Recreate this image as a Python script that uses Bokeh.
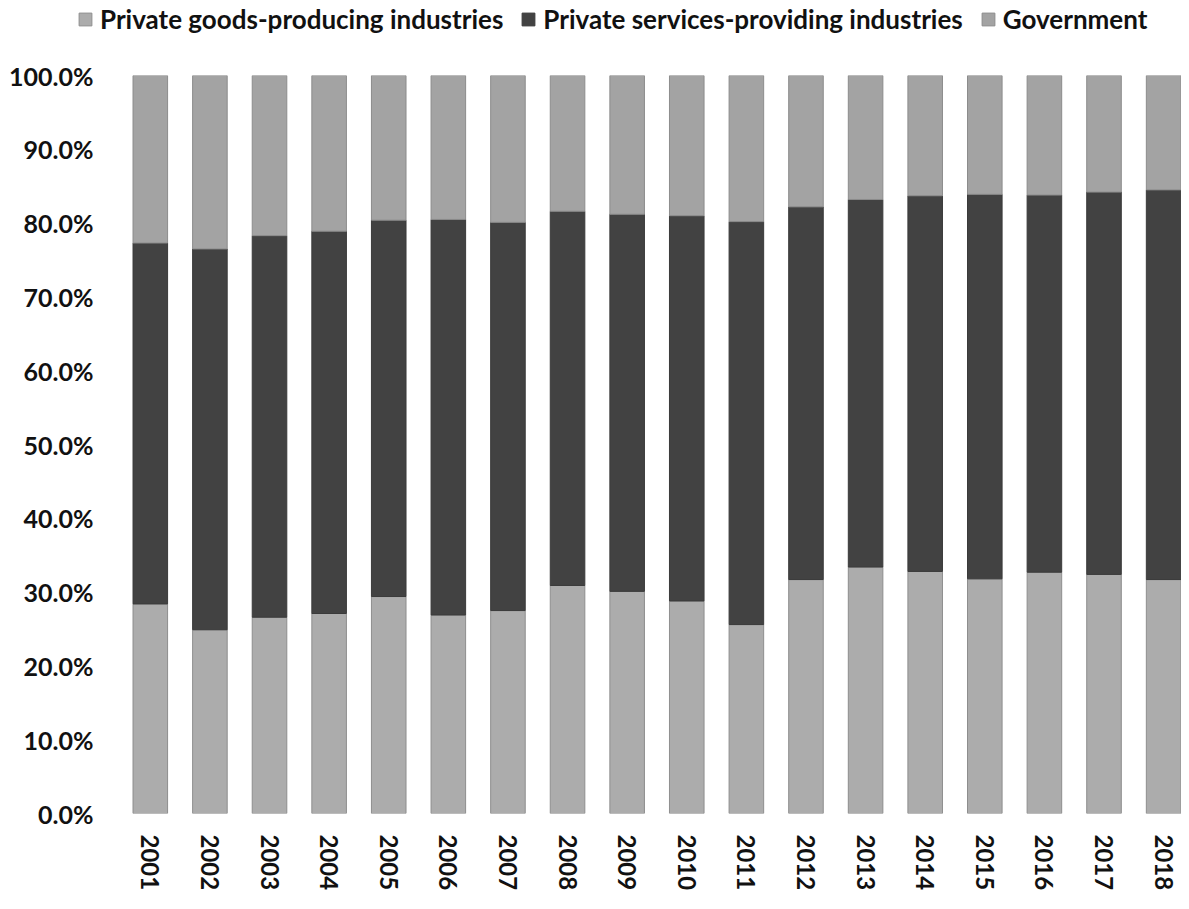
from bokeh.plotting import figure
from bokeh.layouts import column
from bokeh.models import ColumnDataSource, Range1d, FixedTicker, Legend, LegendItem, PrintfTickFormatter
from bokeh.embed import file_html
from bokeh.resources import INLINE

years = [2001, 2002, 2003, 2004, 2005, 2006, 2007, 2008, 2009,
         2010, 2011, 2012, 2013, 2014, 2015, 2016, 2017, 2018]
goods = [28.4, 24.9, 26.6, 27.1, 29.4, 26.9, 27.5, 30.9, 30.1,
         28.8, 25.6, 31.7, 33.4, 32.8, 31.8, 32.7, 32.4, 31.7]
services = [48.9, 51.6, 51.7, 51.8, 51.0, 53.6, 52.6, 50.7, 51.1,
            52.2, 54.6, 50.5, 49.8, 50.9, 52.1, 51.1, 51.8, 52.8]
government = [22.7, 23.5, 21.7, 21.1, 19.6, 19.5, 19.9, 18.4, 18.8,
              19.0, 19.8, 17.8, 16.8, 16.3, 16.1, 16.2, 15.8, 15.5]
series_names = ["Private goods-producing industries",
                "Private services-providing industries",
                "Government"]
y_ticks = [0, 10, 20, 30, 40, 50, 60, 70, 80, 90, 100]

FONT = "Lato"
colors = ["#acacac", "#424242", "#a3a3a3"]
lines = ["#8e8e8e", "#3a3a3a", "#8c8c8c"]
cols = ["goods", "services", "government"]

src = ColumnDataSource(dict(year=years, goods=goods, services=services, government=government))

p = figure(width=1181, height=853, output_backend="svg", toolbar_location=None,
           x_range=Range1d(2000.5, 2018.3), y_range=Range1d(0, 100),
           min_border_left=120, min_border_right=0, min_border_top=35, min_border_bottom=76)
p.outline_line_color = None
p.background_fill_color = "white"
p.border_fill_color = "white"

rs = p.vbar_stack(cols, x="year", width=0.58, source=src,
                  fill_color=colors, line_color=lines, line_width=1)

p.xgrid.grid_line_color = None
p.ygrid.grid_line_color = None

p.yaxis.ticker = FixedTicker(ticks=y_ticks)
p.yaxis.formatter = PrintfTickFormatter(format="%.1f%%")
p.xaxis.ticker = FixedTicker(ticks=years)
p.xaxis.major_label_orientation = "vertical"
for ax in (p.xaxis, p.yaxis):
    ax.axis_line_color = None
    ax.major_tick_line_color = None
    ax.minor_tick_line_color = None
    ax.major_tick_out = 0
    ax.major_tick_in = 0
    ax.minor_tick_out = 0
    ax.minor_tick_in = 0
    ax.major_label_text_font = FONT
    ax.major_label_text_font_style = "bold"
    ax.major_label_text_color = "#111111"
p.yaxis.major_label_text_font_size = "25px"
p.xaxis.major_label_text_font_size = "24px"
p.yaxis.major_label_standoff = 27
p.xaxis.major_label_standoff = 21

# legend strip above the chart (legend reaches left of the plot frame)
lf = figure(width=1181, height=40, output_backend="svg", toolbar_location=None,
            x_range=Range1d(0, 1), y_range=Range1d(0, 1),
            x_axis_location=None, y_axis_location=None, min_border=0)
lf.outline_line_color = None
lf.grid.grid_line_color = None
lf.border_fill_color = "white"
for fig in (lf, p):
    try:
        fig.frame_align = False
    except Exception:
        pass
# proxies share the data source; they fall outside this strip's ranges, only their legend swatches show
proxies = [lf.vbar(x="year", top=c, width=0.58, source=src, fill_color=fc, line_color=lc)
           for c, fc, lc in zip(cols, colors, lines)]
items = [LegendItem(label=n, renderers=[r]) for n, r in zip(series_names, proxies)]
legend = Legend(items=items, orientation="horizontal", location=(77, 5),
                label_text_font=FONT, label_text_font_style="bold", label_text_font_size="26px",
                label_text_color="#111111", glyph_width=16, glyph_height=16,
                label_standoff=7, spacing=17, padding=0, margin=0,
                border_line_color=None, background_fill_alpha=0)
lf.add_layout(legend, "center")

layout = column(lf, p, spacing=0)
open("out.html", "w").write(file_html(layout, INLINE))
